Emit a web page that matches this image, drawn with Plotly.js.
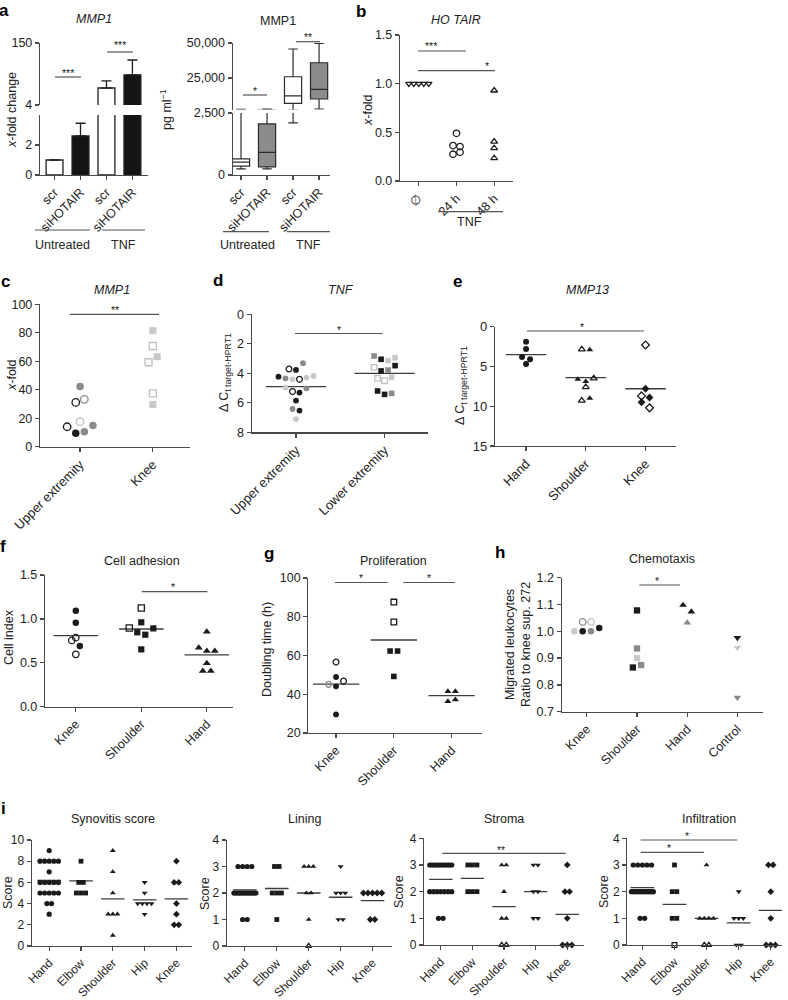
<!DOCTYPE html>
<html><head><meta charset="utf-8">
<script src="https://cdn.plot.ly/plotly-3.0.1.min.js"></script>
<style>html,body{margin:0;padding:0;background:#fff}#chart{width:788px;height:1000px}</style>
</head><body><div id="chart"></div>
<script>
// ================= DATA =================
// (a) left: MMP1 x-fold change (bar = mean, upper error)
const aCats = ['scr', 'siHOTAIR', 'scr', 'siHOTAIR'];
const aGroups = ['Untreated', 'TNF'];
const aFoldMean = [1.0, 2.6, 44, 75];
const aFoldErr = [0, 0.85, 17, 35];
// (a) right: MMP1 pg/ml box summaries
const aPgLow = [250, 250, 2100, 2700];
const aPgQ1 = [360, 330, 6900, 10000];
const aPgMed = [520, 910, 12200, 16900];
const aPgQ3 = [650, 2060, 25900, 35900];
const aPgHigh = [2650, 2700, 45700, 49800];
// (b) HOTAIR x-fold
const bCats = ['\u2205', '24 h', '48 h'];
const bCtrl = [1, 1, 1, 1, 1];
const b24h = [0.275, 0.296, 0.364, 0.354, 0.49];
const b48h = [0.93, 0.405, 0.337, 0.234];
// (c) MMP1 x-fold
const cCats = ['Upper extremity', 'Knee'];
const cUpper = [42.2, 31.1, 33.3, 17.6, 14.0, 9.4, 10.5, 14.8];
const cUpperTone = ['G', 'k', 'g', 'l', 'k', 'K', 'G', 'G'];
const cKnee = [81.5, 70.7, 59.3, 63.2, 37.5, 29.7];
const cKneeTone = ['L', 'l', 'l', 'L', 'l', 'L'];
// (d) TNF delta Ct
const dCats = ['Upper extremity', 'Lower extremity'];
const dUpper = [3.71, 3.77, 3.32, 4.23, 4.34, 4.41, 4.41, 4.29, 4.18, 4.97, 5.24, 5.31, 5.02, 5.85, 6.42, 6.53, 7.10];
const dUpperTone = ['k', 'K', 'G', 'K', 'G', 'L', 'k', 'L', 'L', 'L', 'k', 'K', 'G', 'K', 'G', 'K', 'L'];
const dLower = [2.83, 3.05, 3.14, 2.94, 3.6, 3.84, 3.78, 3.48, 4.34, 4.5, 4.27, 5.2, 5.43, 5.36];
const dLowerTone = ['G', 'K', 'L', 'L', 'l', 'K', 'G', 'K', 'l', 'l', 'L', 'K', 'K', 'G'];
const dMeans = [4.9, 4.0];
// (e) MMP13 delta Ct
const eCats = ['Hand', 'Shoulder', 'Knee'];
const eHand = [1.9, 2.8, 3.8, 4.1, 4.7];
const eHandTone = ['K', 'K', 'K', 'K', 'K'];
const eShoulder = [2.85, 2.9, 6.6, 6.9, 6.5, 7.6, 9.3, 9.0];
const eShoulderTone = ['k', 'K', 'K', 'K', 'k', 'k', 'k', 'K'];
const eKnee = [2.3, 7.8, 8.7, 8.9, 9.5, 10.2];
const eKneeTone = ['k', 'K', 'k', 'K', 'K', 'k'];
const eMeans = [3.5, 6.4, 7.8];
// (f) Cell adhesion
const fCats = ['Knee', 'Shoulder', 'Hand'];
const fKnee = [1.094, 0.957, 0.755, 0.786, 0.69, 0.596];
const fKneeTone = ['K', 'K', 'k', 'k', 'K', 'k'];
const fShoulder = [1.124, 0.896, 0.961, 0.847, 0.82, 0.892, 0.653];
const fShoulderTone = ['k', 'k', 'K', 'K', 'K', 'K', 'K'];
const fHand = [0.855, 0.672, 0.634, 0.634, 0.494, 0.406, 0.406];
const fHandTone = ['K', 'K', 'K', 'K', 'K', 'K', 'K'];
const fMeans = [0.81, 0.885, 0.59];
// (g) Proliferation
const gCats = ['Knee', 'Shoulder', 'Hand'];
const gKnee = [56.6, 48.9, 45.1, 44.1, 46.8, 29.6];
const gKneeTone = ['k', 'K', 'g', 'K', 'k', 'K'];
const gShoulder = [87.6, 77.3, 62.3, 62.3, 49.2];
const gShoulderTone = ['k', 'k', 'K', 'K', 'K'];
const gHand = [41.5, 41.5, 36.3, 37.2];
const gHandTone = ['K', 'K', 'K', 'K'];
const gMeans = [45.2, 68.0, 39.3];
// (h) Chemotaxis
const hCats = ['Knee', 'Shoulder', 'Hand', 'Control'];
const hKnee = [1.0, 1.0, 1.0, 1.012, 1.035, 1.035];
const hKneeTone = ['L', 'K', 'G', 'K', 'g', 'l'];
const hShoulder = [1.078, 0.936, 0.9, 0.865, 0.874];
const hShoulderTone = ['K', 'G', 'L', 'K', 'G'];
const hHand = [1.098, 1.073, 1.032];
const hHandTone = ['K', 'K', 'G'];
const hControl = [0.976, 0.939, 0.753];
const hControlTone = ['K', 'L', 'G'];
// (i) histology scores
const iCats = ['Hand', 'Elbow', 'Shoulder', 'Hip', 'Knee'];
const synHand = [9, 8, 8, 8, 8, 8, 7, 6, 6, 6, 6, 6, 5, 5, 5, 5, 5, 4, 4, 3];
const synElbow = [8, 6, 6, 5, 5, 5];
const synShoulder = [9, 7, 5, 3, 3, 3, 1];
const synHip = [6, 5, 4, 4, 4, 4, 3];
const synKnee = [8, 6, 6, 4, 3, 2, 2];
const synMeans = [6.2, 6.15, 4.45, 4.35, 4.45];
const linHand = [3, 3, 3, 3, 2, 2, 2, 2, 2, 2, 2, 2, 2, 2, 2, 2, 2, 2, 1, 1];
const linElbow = [3, 3, 2, 2, 2, 1];
const linShoulder = [3, 3, 3, 2, 2, 1, 0];
const linHip = [3, 2, 2, 2, 1, 1];
const linKnee = [2, 2, 2, 2, 2, 1, 1];
const linMeans = [2.12, 2.17, 2.0, 1.84, 1.71];
const strHand = [3, 3, 3, 3, 3, 3, 3, 3, 3, 3, 3, 2, 2, 2, 2, 2, 2, 2, 1, 1];
const strElbow = [3, 3, 3, 2, 2, 2];
const strShoulder = [3, 3, 2, 1, 1, 0, 0];
const strHip = [3, 3, 2, 2, 1, 1];
const strKnee = [3, 2, 2, 1, 0, 0, 0];
const strMeans = [2.46, 2.5, 1.44, 2.0, 1.15];
const infHand = [3, 3, 3, 3, 3, 2, 2, 2, 2, 2, 2, 2, 2, 2, 2, 2, 2, 2, 1, 1];
const infElbow = [3, 2, 2, 1, 1, 0];
const infShoulder = [3, 1, 1, 1, 1, 0, 0];
const infHip = [2, 1, 1, 1, 0, 0];
const infKnee = [3, 3, 2, 1, 0, 0, 0];
const infMeans = [2.15, 1.52, 1.0, 0.83, 1.3];

// ================= GEOMETRY / STYLE =================
const FONT = 'Liberation Sans, Arial, Helvetica, sans-serif';
const TXT = '#222';
const AXC = '#4a4a4a';
const W = 788, H = 1000;
const PX = p => p / W, PY = p => 1 - p / H;
const TONE = { K: ['#1b1b1b', false], G: ['#8a8a8a', false], L: ['#c8c8c8', false],
               k: ['#1b1b1b', true], g: ['#8a8a8a', true], l: ['#c0c0c0', true] };
const TICK_ANGLE = -45;

// panel boxes in pixels: xd=[left,right], yd=[bottom,top]
const G = {
  aL: { xd: [40, 148], xr: [-0.56, 3.6] },
  aLlo: { yd: [175, 115], yr: [0, 4] },
  aLhi: { yd: [105, 43], yr: [4, 150] },
  aR: { xd: [232.7, 330], xr: [-0.32, 3.42] },
  aRlo: { yd: [175, 113], yr: [0, 2500] },
  aRhi: { yd: [109.5, 43], yr: [2500, 50000] },
  b: { xd: [400, 513], xr: [-0.5, 2.5], yd: [181, 35], yr: [0, 1.5] },
  c: { xd: [40, 190], xr: [-0.55, 1.51], yd: [446.7, 304.3], yr: [0, 100] },
  d: { xd: [251.7, 428], xr: [-0.5, 1.49], yd: [432.3, 314.3], yr: [8, 0] },
  e: { xd: [495, 676], xr: [-0.52, 2.51], yd: [446, 326.7], yr: [15, 0] },
  f: { xd: [45, 233], xr: [-0.47, 2.40], yd: [706.7, 575], yr: [0, 1.5] },
  g: { xd: [308.3, 481.7], xr: [-0.48, 2.52], yd: [733, 578], yr: [20, 100] },
  h: { xd: [561.7, 763], xr: [-0.5, 3.51], yd: [711.7, 577.7], yr: [0.7, 1.2] },
  i1: { xd: [31.7, 191.7], xr: [-0.55, 4.48], yd: [946, 840], yr: [0, 10] },
  i2: { xd: [226.7, 391.7], xr: [-0.57, 4.6], yd: [946, 840], yr: [0, 4] },
  i3: { xd: [424, 584], xr: [-0.53, 4.53], yd: [945, 838.3], yr: [0, 4] },
  i4: { xd: [627.3, 782], xr: [-0.47, 4.35], yd: [945, 838.3], yr: [0, 4] }
};

const AXBASE = { showline: true, linecolor: AXC, linewidth: 1.2, ticks: 'outside', ticklen: 4, tickwidth: 1.2,
  tickcolor: AXC, showgrid: false, zeroline: false, fixedrange: true, automargin: false,
  ticklabeloverflow: 'allow', tickfont: { family: FONT, size: 12.5, color: TXT } };

function xAxis(g, anchor, cats, size) {
  return Object.assign({}, AXBASE, { domain: [PX(g.xd[0]), PX(g.xd[1])], range: g.xr, anchor: anchor,
    tickmode: 'array', tickvals: cats.map((_, i) => i), ticktext: cats, tickangle: TICK_ANGLE,
    tickfont: { family: FONT, size: size || 12.5, color: TXT } });
}
function yAxis(g, anchor, tickvals, ticktext, size) {
  const o = Object.assign({}, AXBASE, { domain: [PY(g.yd[0]), PY(g.yd[1])], range: g.yr, anchor: anchor,
    tickmode: 'array', tickvals: tickvals, tickfont: { family: FONT, size: size || 12.5, color: TXT } });
  if (ticktext) o.ticktext = ticktext;
  return o;
}

// Prism-like scatter spreading: values within `thresh` px of a row start share a row,
// rows are centred on the category with spacing `step` px (compressed to maxW px if needed)
function swarm(vals, cat, g, step, thresh, maxW) {
  const pxY = Math.abs(g.yd[0] - g.yd[1]) / Math.abs(g.yr[1] - g.yr[0]);
  const pxX = (g.xd[1] - g.xd[0]) / (g.xr[1] - g.xr[0]);
  const order = vals.map((v, i) => i).sort((a, b) => (vals[a] - vals[b]) || (a - b));
  const rows = []; let cur = null, start = 0;
  order.forEach(i => {
    const p = vals[i] * pxY;
    if (cur && Math.abs(p - start) <= thresh) cur.push(i);
    else { cur = [i]; start = p; rows.push(cur); }
  });
  const xs = new Array(vals.length);
  rows.forEach(r => {
    r.sort((a, b) => a - b);
    let s = step;
    if (maxW && r.length > 1 && (r.length - 1) * s > maxW) s = maxW / (r.length - 1);
    r.forEach((i, k) => { xs[i] = cat + (k - (r.length - 1) / 2) * s / pxX; });
  });
  return xs;
}

const traces = [];
function pts(vals, tones, cat, g, xa, ya, sym, size, step, thresh, maxW) {
  const xs = swarm(vals, cat, g, step, thresh, maxW);
  const col = tones.map(t => TONE[t][0]);
  traces.push({ type: 'scatter', mode: 'markers', x: xs, y: vals, xaxis: xa, yaxis: ya, cliponaxis: false,
    hoverinfo: 'skip',
    marker: { size: size, color: col, symbol: tones.map(t => TONE[t][1] ? sym + '-open' : sym),
      line: { color: col, width: tones.map(t => TONE[t][1] ? 1.3 : 0) } } });
}
function meanLines(means, half, xa, ya) {
  const x = [], y = [];
  means.forEach((m, i) => { x.push(i - half, i + half, null); y.push(m, m, null); });
  traces.push({ type: 'scatter', mode: 'lines', x: x, y: y, xaxis: xa, yaxis: ya, cliponaxis: false,
    hoverinfo: 'skip', line: { color: '#3c3c3c', width: 1.3 } });
}

// ---- (a) left: bars on a broken axis (two y segments share x) ----
const barFill = aCats.map(c => c === 'scr' ? '#ffffff' : '#141414');
const aBreak = G.aLhi.yr[0];
traces.push({ type: 'bar', x: aCats.map((_, i) => i), y: aFoldMean, xaxis: 'x', yaxis: 'y',
  width: 0.65, hoverinfo: 'skip',
  marker: { color: barFill, line: { color: '#1f1f1f', width: 1.3 } },
  error_y: { type: 'data', symmetric: false, array: aFoldErr, arrayminus: aFoldErr.map(() => 0),
    color: '#1f1f1f', thickness: 1.3, width: 5 } });
traces.push({ type: 'bar', x: aCats.map((_, i) => i), y: aFoldMean.map(v => v > aBreak ? v : null),
  xaxis: 'x', yaxis: 'y2', width: 0.65, hoverinfo: 'skip',
  marker: { color: barFill, line: { color: '#1f1f1f', width: 1.3 } },
  error_y: { type: 'data', symmetric: false, array: aFoldErr, arrayminus: aFoldErr.map(() => 0),
    color: '#1f1f1f', thickness: 1.3, width: 5 } });

// ---- (a) right: box plots on a broken axis ----
[true, false].forEach(isScr => {
  const idx = aCats.map((c, i) => i).filter(i => (aCats[i] === 'scr') === isScr);
  ['y3', 'y4'].forEach(ya => traces.push({ type: 'box', x: idx, xaxis: 'x2', yaxis: ya,
    q1: idx.map(i => aPgQ1[i]), median: idx.map(i => aPgMed[i]), q3: idx.map(i => aPgQ3[i]),
    lowerfence: idx.map(i => aPgLow[i]), upperfence: idx.map(i => aPgHigh[i]),
    width: 0.66, whiskerwidth: 0.55, boxpoints: false, hoverinfo: 'skip',
    fillcolor: isScr ? '#ffffff' : '#8c8c8c', line: { color: '#2a2a2a', width: 1.2 } }));
});

// ---- (b) ----
pts(bCtrl, bCtrl.map(() => 'k'), 0, G.b, 'x3', 'y5', 'triangle-down', 5.5, 5, 6);
pts(b24h, b24h.map(() => 'k'), 1, G.b, 'x3', 'y5', 'circle', 6.5, 7, 6);
pts(b48h, b48h.map(() => 'k'), 2, G.b, 'x3', 'y5', 'triangle-up', 6, 7, 6);

// ---- (c) ----
pts(cUpper, cUpperTone, 0, G.c, 'x4', 'y6', 'circle', 7.5, 8.6, 8.2);
pts(cKnee, cKneeTone, 1, G.c, 'x4', 'y6', 'square', 7, 8.6, 8.2);

// ---- (d) ----
meanLines(dMeans, 0.34, 'x5', 'y7');
pts(dUpper, dUpperTone, 0, G.d, 'x5', 'y7', 'circle', 5.8, 7, 7);
pts(dLower, dLowerTone, 1, G.d, 'x5', 'y7', 'square', 5.6, 7, 7);

// ---- (e) ----
meanLines(eMeans, 0.34, 'x6', 'y8');
pts(eHand, eHandTone, 0, G.e, 'x6', 'y8', 'circle', 6, 8, 6.3);
pts(eShoulder, eShoulderTone, 1, G.e, 'x6', 'y8', 'triangle-up', 6, 8, 6.3);
pts(eKnee, eKneeTone, 2, G.e, 'x6', 'y8', 'diamond', 6, 8, 6.3);

// ---- (f) ----
meanLines(fMeans, 0.34, 'x7', 'y9');
pts(fKnee, fKneeTone, 0, G.f, 'x7', 'y9', 'circle', 6.5, 8, 7.2);
pts(fShoulder, fShoulderTone, 1, G.f, 'x7', 'y9', 'square', 6.2, 8, 7.2);
pts(fHand, fHandTone, 2, G.f, 'x7', 'y9', 'triangle-up', 7, 8, 7.2);

// ---- (g) ----
meanLines(gMeans, 0.4, 'x8', 'y10');
pts(gKnee, gKneeTone, 0, G.g, 'x8', 'y10', 'circle', 5.8, 7.5, 6.75);
pts(gShoulder, gShoulderTone, 1, G.g, 'x8', 'y10', 'square', 5.6, 7.5, 6.75);
pts(gHand, gHandTone, 2, G.g, 'x8', 'y10', 'triangle-up', 6.2, 7.5, 6.75);

// ---- (h) ----
pts(hKnee, hKneeTone, 0, G.h, 'x9', 'y11', 'circle', 6.5, 8.3, 7.5);
pts(hShoulder, hShoulderTone, 1, G.h, 'x9', 'y11', 'square', 6.3, 8.3, 7.5);
pts(hHand, hHandTone, 2, G.h, 'x9', 'y11', 'triangle-up', 6.8, 8.3, 7.5);
pts(hControl, hControlTone, 3, G.h, 'x9', 'y11', 'triangle-down', 6.8, 8.3, 7.5);

// ---- (i) ----
const iSymbols = ['circle', 'square', 'triangle-up', 'triangle-down', 'diamond'];
function iPanel(g, xa, ya, groups, means, openZero) {
  meanLines(means, 0.37, xa, ya);
  groups.forEach((vals, c) => {
    const open = openZero.indexOf(iCats[c]) >= 0;
    const tones = vals.map(v => (open && v === 0) ? 'k' : 'K');
    pts(vals, tones, c, g, xa, ya, iSymbols[c], c === 1 ? 4.8 : 5.2, 4.6, 2, 22);
  });
}
iPanel(G.i1, 'x10', 'y12', [synHand, synElbow, synShoulder, synHip, synKnee], synMeans, []);
iPanel(G.i2, 'x11', 'y13', [linHand, linElbow, linShoulder, linHip, linKnee], linMeans, ['Shoulder']);
iPanel(G.i3, 'x12', 'y14', [strHand, strElbow, strShoulder, strHip, strKnee], strMeans, ['Shoulder']);
iPanel(G.i4, 'x13', 'y15', [infHand, infElbow, infShoulder, infHip, infKnee], infMeans, ['Elbow', 'Shoulder']);

// ================= LAYOUT =================
const layout = {
  width: W, height: H, margin: { l: 0, r: 0, t: 0, b: 0 }, showlegend: false,
  paper_bgcolor: '#fff', plot_bgcolor: 'rgba(0,0,0,0)', barmode: 'overlay', boxmode: 'overlay',
  font: { family: FONT, size: 12.5, color: TXT },
  xaxis: xAxis(G.aL, 'y', aCats),
  yaxis: yAxis(G.aLlo, 'x', [0, 2]),
  yaxis2: yAxis(G.aLhi, 'x', [4, 150]),
  xaxis2: xAxis(G.aR, 'y3', aCats),
  yaxis3: yAxis(G.aRlo, 'x2', [0, 2500], ['0', '2,500']),
  yaxis4: yAxis(G.aRhi, 'x2', [25000, 50000], ['25,000', '50,000']),
  xaxis3: xAxis(G.b, 'y5', bCats),
  yaxis5: yAxis(G.b, 'x3', [0, 0.5, 1.0, 1.5], ['0.0', '0.5', '1.0', '1.5']),
  xaxis4: xAxis(G.c, 'y6', cCats, 13),
  yaxis6: yAxis(G.c, 'x4', [0, 20, 40, 60, 80, 100]),
  xaxis5: xAxis(G.d, 'y7', dCats, 13),
  yaxis7: yAxis(G.d, 'x5', [0, 2, 4, 6, 8]),
  xaxis6: xAxis(G.e, 'y8', eCats, 13),
  yaxis8: yAxis(G.e, 'x6', [0, 5, 10, 15], null, 13),
  xaxis7: xAxis(G.f, 'y9', fCats),
  yaxis9: yAxis(G.f, 'x7', [0, 0.5, 1.0, 1.5], ['0.0', '0.5', '1.0', '1.5']),
  xaxis8: xAxis(G.g, 'y10', gCats),
  yaxis10: yAxis(G.g, 'x8', [20, 40, 60, 80, 100]),
  xaxis9: xAxis(G.h, 'y11', hCats),
  yaxis11: yAxis(G.h, 'x9', [0.7, 0.8, 0.9, 1.0, 1.1, 1.2], ['0.7', '0.8', '0.9', '1.0', '1.1', '1.2']),
  xaxis10: xAxis(G.i1, 'y12', iCats, 12),
  yaxis12: yAxis(G.i1, 'x10', [0, 2, 4, 6, 8, 10], null, 12),
  xaxis11: xAxis(G.i2, 'y13', iCats, 12),
  yaxis13: yAxis(G.i2, 'x11', [0, 1, 2, 3, 4], null, 12),
  xaxis12: xAxis(G.i3, 'y14', iCats, 12),
  yaxis14: yAxis(G.i3, 'x12', [0, 1, 2, 3, 4], null, 12),
  xaxis13: xAxis(G.i4, 'y15', iCats, 12),
  yaxis15: yAxis(G.i4, 'x13', [0, 1, 2, 3, 4], null, 12),
  annotations: [], shapes: []
};

function txt(t, x, y, size, opt) {
  layout.annotations.push(Object.assign({ text: t, x: PX(x), y: PY(y), xref: 'paper', yref: 'paper',
    showarrow: false, xanchor: 'center', yanchor: 'middle',
    font: { family: FONT, size: size || 12.5, color: TXT } }, opt || {}));
}
function hline(x0, x1, y, color) {
  layout.shapes.push({ type: 'line', xref: 'paper', yref: 'paper', x0: PX(x0), x1: PX(x1), y0: PY(y), y1: PY(y),
    line: { color: color || '#555', width: 1.2 } });
}
function sig(stars, x0, x1, y, sx, sy) { hline(x0, x1, y); txt(stars, sx, sy + 2.7, 10.5); }
function ytitle(t, x, y) { txt(t, x, y, 12.5, { textangle: -90 }); }

// panel letters
[['a', 4, 10], ['b', 361, 11], ['c', 5, 281], ['d', 218, 280], ['e', 457, 281],
 ['f', 3, 546], ['g', 269, 553], ['h', 500, 552], ['i', 4, 808]].forEach(p =>
  txt('<b>' + p[0] + '</b>', p[1], p[2], 17, { font: { family: FONT, size: 17, color: '#000' } }));

// panel titles
txt('<i>MMP1</i>', 94, 19); txt('MMP1', 278, 21); txt('<i>HO TAIR</i>', 456, 20);
txt('<i>MMP1</i>', 112, 290); txt('<i>TNF</i>', 341, 290); txt('<i>MMP13</i>', 587, 290);
txt('Cell adhesion', 141.7, 561); txt('Proliferation', 393, 561); txt('Chemotaxis', 662, 559);
txt('Synovitis score', 113, 819); txt('Lining', 304, 819); txt('Stroma', 504, 819); txt('Infiltration', 709, 819);

// axis titles
ytitle('<i>x</i>-fold change', 12, 110);
ytitle('pg ml<sup>\u22121</sup>', 166, 110);
ytitle('<i>x</i>-fold', 368, 110);
ytitle('<i>x</i>-fold', 12, 375);
ytitle('\u0394 C<sub>t target-HPRT1</sub>', 225, 373);
ytitle('\u0394 C<sub>t target-HPRT1</sub>', 461, 386);
ytitle('Cell index', 9, 637);
ytitle('Doubling time (h)', 267, 650);
ytitle('Migrated leukocytes<br>Ratio to knee sup. 272', 518, 645);
ytitle('Score', 8, 893); ytitle('Score', 205, 893); ytitle('Score', 399, 892); ytitle('Score', 604, 892);

// group labels under (a) and (b)
hline(35, 90, 230); hline(102, 145, 230);
txt(aGroups[0], 62, 245); txt(aGroups[1], 123, 245);
hline(223, 269, 231.7); hline(287, 330, 231.7);
txt(aGroups[0], 247, 245); txt(aGroups[1], 308, 245);
hline(438, 503, 211.7); txt('TNF', 470, 222);

// significance bars
sig('***', 55, 81, 77, 68, 70);
sig('***', 107, 133, 52, 120, 42);
sig('*', 243, 267, 95, 255, 88);
sig('**', 296, 320, 41.7, 308, 34);
sig('***', 418, 466, 51, 431, 43.5);
sig('*', 418, 495, 70.7, 487, 63);
sig('**', 70, 159, 314.3, 115, 307.5);
sig('*', 295, 382.7, 333.5, 339, 327);
sig('*', 527, 644, 331, 582, 324.5);
sig('*', 141.7, 207.3, 591.7, 173, 584.5);
sig('*', 335, 387.7, 582.5, 361, 575);
sig('*', 403.3, 455, 582.5, 429.3, 575);
sig('*', 639.3, 680, 585, 656.7, 578.5);
sig('**', 442.3, 565.7, 853.3, 500.7, 847);
sig('*', 640.7, 737.3, 840, 687, 833);
sig('*', 640.7, 704, 852.3, 669, 845.5);

Plotly.newPlot('chart', traces, layout, { staticPlot: true, displayModeBar: false });
</script></body></html>
